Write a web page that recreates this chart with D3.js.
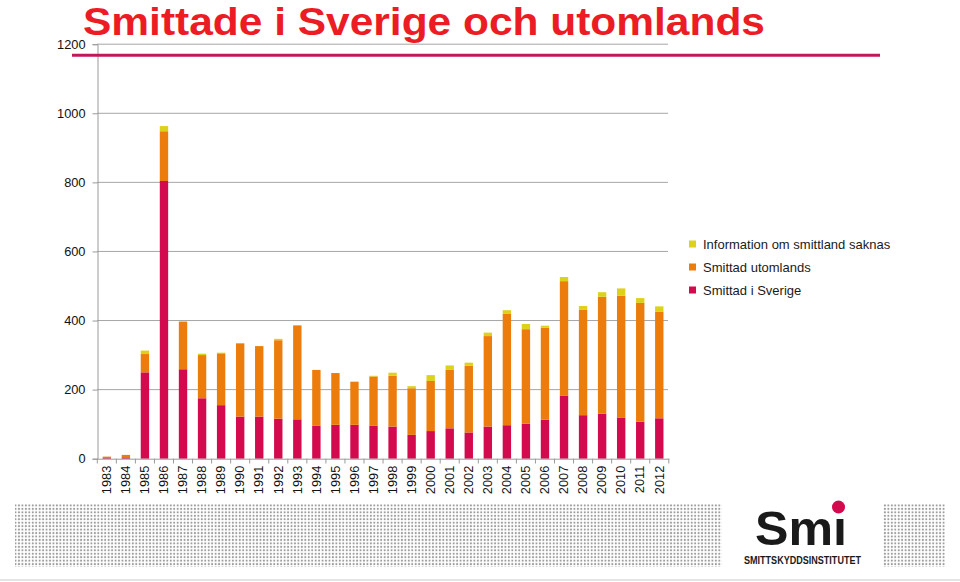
<!DOCTYPE html>
<html><head><meta charset="utf-8">
<script src="https://cdn.jsdelivr.net/npm/d3@7/dist/d3.min.js"></script>
<style>html,body{margin:0;padding:0;background:#fff;}svg{display:block;}</style>
</head><body>
<svg id="c" width="960" height="582"></svg>
<script>
const years = ["1983","1984","1985","1986","1987","1988","1989","1990","1991","1992","1993","1994","1995","1996","1997","1998","1999","2000","2001","2002","2003","2004","2005","2006","2007","2008","2009","2010","2011","2012"];
const sverige =   [2,4,250,804,259,175,155,122,122,116,114,95,98,98,95,93,69,80,88,76,93,97,101,113,183,126,130,118,107,117];
const utomlands = [4,7,53,144,138,125,150,212,204,227,272,162,150,125,143,147,135,145,169,193,262,322,274,266,331,306,339,354,344,308];
const saknas =    [0,0,10,15,0,4,2,0,0,4,0,0,0,0,2,9,6,17,13,9,10,11,15,6,12,10,13,21,14,16];
const yTicks = [0,200,400,600,800,1000,1200];
const seriesNames = ["Smittad i Sverige","Smittad utomlands","Information om smittland saknas"];
const colors = ["#d40a4f","#ec7d0d","#dcd21c"];
const title = "Smittade i Sverige och utomlands";

const svg = d3.select("#c");
const font = "'Liberation Sans', Arial, sans-serif";

// bottom decoration pattern
const defs = svg.append("defs");
const pat = defs.append("pattern").attr("id","dots").attr("patternUnits","userSpaceOnUse")
  .attr("width",3.45).attr("height",3.45);
pat.append("circle").attr("cx",1.7).attr("cy",1.7).attr("r",1.05).attr("fill","#9c9c9c");
svg.append("rect").attr("x",15).attr("y",504).attr("width",707).attr("height",63).attr("fill","url(#dots)");
svg.append("rect").attr("x",883).attr("y",504).attr("width",62).attr("height",63).attr("fill","url(#dots)");
svg.append("line").attr("x1",0).attr("x2",960).attr("y1",580).attr("y2",580).attr("stroke","#e4e4e4").attr("stroke-width",2);

const x = d3.scaleBand().domain(years).range([97.3, 668.8]).paddingInner(0.56).paddingOuter(0.28);
const xb = d3.scaleBand().domain(years).range([97.3, 668.8]);
const y = d3.scaleLinear().domain([0,1200]).range([458.7, 44.2]);

// gridlines
svg.append("g").selectAll("line").data(yTicks.filter(d=>d>0)).join("line")
  .attr("x1",97).attr("x2",668).attr("y1",d=>y(d)).attr("y2",d=>y(d))
  .attr("stroke","#a6a6a6").attr("stroke-width",1);

// y axis
const ya = svg.append("g").attr("transform","translate(97.5,0)")
  .call(d3.axisLeft(y).tickValues(yTicks).tickSize(5).tickPadding(7).tickFormat(d3.format("d")));
ya.select(".domain").attr("stroke","#9a9a9a");
ya.selectAll(".tick line").attr("stroke","#9a9a9a");
ya.selectAll("text").attr("font-family",font).attr("font-size",12.8).attr("fill","#111");

// stacked bars
const data = years.map((yr,i)=>({year:yr, s:sverige[i], u:utomlands[i], n:saknas[i]}));
const stack = d3.stack().keys(["s","u","n"])(data);
svg.append("g").selectAll("g").data(stack).join("g").attr("fill",(d,i)=>colors[i])
  .selectAll("rect").data(d=>d).join("rect")
  .attr("x",d=>x(d.data.year)).attr("width",x.bandwidth())
  .attr("y",d=>y(d[1])).attr("height",d=>Math.max(0,y(d[0])-y(d[1])));

// x axis
const xa = svg.append("g").attr("transform","translate(0,458.7)")
  .call(d3.axisBottom(xb).tickSize(0).tickFormat(d=>d));
xa.select(".domain").attr("stroke","#9a9a9a");
xa.selectAll("text").attr("font-family",font).attr("font-size",12.8).attr("fill","#111")
  .attr("transform","rotate(-90)").attr("text-anchor","end").attr("dx","-7").attr("dy","0.33em")
  .attr("x",0).attr("y",0);
// tick marks between bands
svg.append("g").selectAll("line").data(d3.range(years.length+1)).join("line")
  .attr("x1",i=>xb.range()[0]+i*xb.step()).attr("x2",i=>xb.range()[0]+i*xb.step())
  .attr("y1",458.7).attr("y2",463.5).attr("stroke","#9a9a9a");

// title and decorative line
svg.append("line").attr("x1",72).attr("x2",880).attr("y1",55.3).attr("y2",55.3)
  .attr("stroke","#c2185b").attr("stroke-width",3);
svg.append("text").attr("x",83).attr("y",35).attr("font-family",font).attr("font-weight","bold")
  .attr("font-size",38.5).attr("fill","#ec1c24").attr("textLength",682).attr("lengthAdjust","spacingAndGlyphs").text(title);

// legend
const legOrder = [2,1,0];
const lg = svg.append("g");
legOrder.forEach((k,j)=>{
  const cy = 244 + j*23;
  lg.append("rect").attr("x",689).attr("y",cy-3.5).attr("width",7).attr("height",7).attr("fill",colors[k]);
  lg.append("text").attr("x",703).attr("y",cy+4.5).attr("font-family",font).attr("font-size",13)
    .attr("fill","#1a1a1a").text(seriesNames[k]);
});

// logo
svg.append("text").attr("x",755).attr("y",545).attr("font-family",font).attr("font-weight","bold")
  .attr("font-size",49).attr("fill","#1a1a1a").attr("textLength",92).attr("lengthAdjust","spacingAndGlyphs").text("Smı");
svg.append("circle").attr("cx",838.5).attr("cy",507).attr("r",6.5).attr("fill","#d40a4f");
svg.append("text").attr("x",744).attr("y",563.5).attr("font-family",font).attr("font-weight","bold")
  .attr("font-size",10).attr("fill","#1a1a1a").attr("textLength",117).attr("lengthAdjust","spacingAndGlyphs").text("SMITTSKYDDSINSTITUTET");
</script>
</body></html>
